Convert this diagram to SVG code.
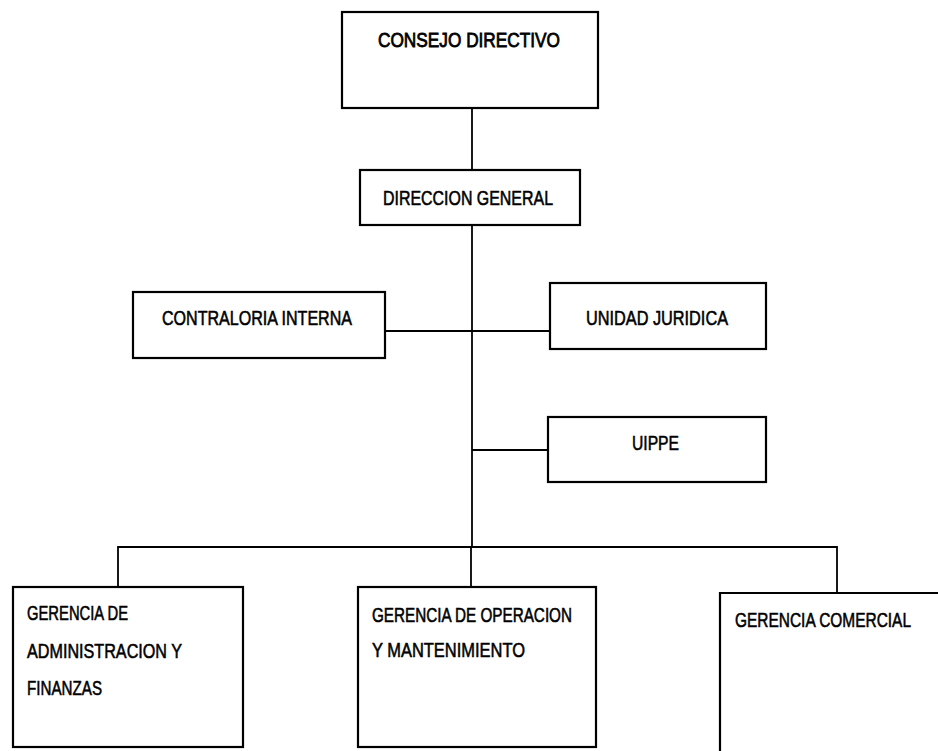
<svg xmlns="http://www.w3.org/2000/svg" width="938" height="751" viewBox="0 0 938 751">
<style>
.box{fill:#fff;stroke:#000;stroke-width:2.2}
.open{fill:none;stroke:#000;stroke-width:2.2}
.ln{fill:none;stroke:#000;stroke-width:1.8}
text{font-family:"Liberation Sans Narrow","Liberation Sans",Arial,sans-serif;font-size:20px;fill:#000;stroke:#000;stroke-width:0.55}
</style>
<rect width="938" height="751" fill="#fff"/>
<g id="connectors">
<line class="ln" x1="472" y1="108" x2="472" y2="170"/>
<line class="ln" x1="472" y1="225" x2="472" y2="547"/>
<line class="ln" x1="385" y1="331" x2="550" y2="331"/>
<line class="ln" x1="472" y1="450" x2="548" y2="450"/>
<polyline class="ln" points="118,587 118,547 837,547 837,593"/>
<line class="ln" x1="471" y1="547" x2="471" y2="587"/>
</g>
<g id="consejo">
<rect class="box" x="342" y="12" width="256" height="96"/>
<text x="378" y="47" font-size="23" textLength="182" lengthAdjust="spacingAndGlyphs" style="stroke-width:0.8">CONSEJO DIRECTIVO</text>
</g>
<g id="direccion">
<rect class="box" x="360" y="170" width="220" height="55"/>
<text x="383" y="205" textLength="170" lengthAdjust="spacingAndGlyphs">DIRECCION GENERAL</text>
</g>
<g id="contraloria">
<rect class="box" x="133" y="292" width="252" height="66"/>
<text x="162" y="325" textLength="190" lengthAdjust="spacingAndGlyphs">CONTRALORIA INTERNA</text>
</g>
<g id="juridica">
<rect class="box" x="550" y="283" width="216" height="66"/>
<text x="586" y="325" textLength="142" lengthAdjust="spacingAndGlyphs">UNIDAD JURIDICA</text>
</g>
<g id="uippe">
<rect class="box" x="548" y="417" width="218" height="65"/>
<text x="632" y="450" textLength="47" lengthAdjust="spacingAndGlyphs">UIPPE</text>
</g>
<g id="gerencia-admin">
<rect class="box" x="13" y="587" width="230" height="160"/>
<text x="27" y="620" textLength="101" lengthAdjust="spacingAndGlyphs">GERENCIA DE</text>
<text x="27" y="658" textLength="155" lengthAdjust="spacingAndGlyphs">ADMINISTRACION Y</text>
<text x="27" y="695" textLength="75" lengthAdjust="spacingAndGlyphs">FINANZAS</text>
</g>
<g id="gerencia-operacion">
<rect class="box" x="358" y="587" width="238" height="160"/>
<text x="372" y="622" textLength="200" lengthAdjust="spacingAndGlyphs">GERENCIA DE OPERACION</text>
<text x="372" y="657" textLength="153" lengthAdjust="spacingAndGlyphs">Y MANTENIMIENTO</text>
</g>
<g id="gerencia-comercial">
<polyline class="open" points="720,751 720,593 938,593"/>
<text x="735" y="627" textLength="176" lengthAdjust="spacingAndGlyphs">GERENCIA COMERCIAL</text>
</g>
</svg>
